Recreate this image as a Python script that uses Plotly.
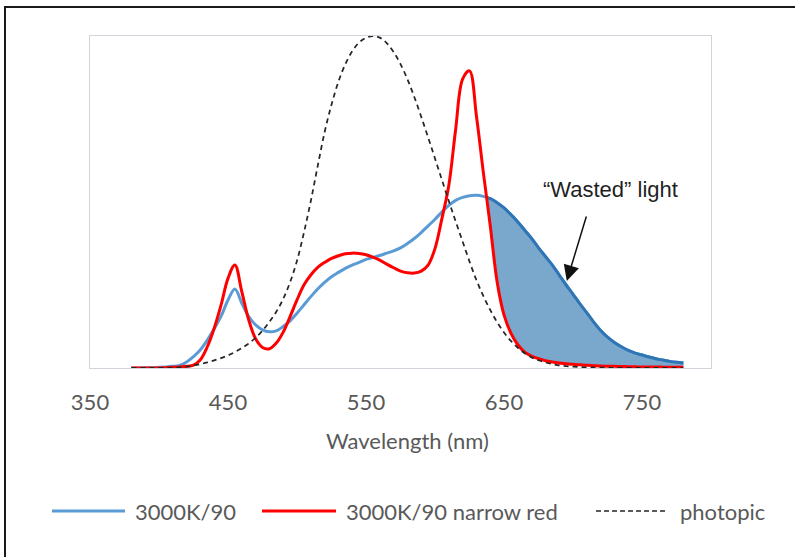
import plotly.graph_objects as go

# ---------------- data ----------------
wavelength = list(range(380, 781, 5))

photopic = [0.000039, 0.000064, 0.00012, 0.000217, 0.000396, 0.00064, 0.00121, 0.00218,
            0.004, 0.0073, 0.0116, 0.01684, 0.023, 0.0298, 0.038, 0.048, 0.06, 0.0739,
            0.09098, 0.1126, 0.13902, 0.1693, 0.20802, 0.2586, 0.323, 0.4073, 0.503,
            0.6082, 0.71, 0.7932, 0.862, 0.9149, 0.954, 0.9803, 0.99495, 1.0, 0.995,
            0.9786, 0.952, 0.9154, 0.87, 0.8163, 0.757, 0.6949, 0.631, 0.5668, 0.503,
            0.4412, 0.381, 0.321, 0.265, 0.217, 0.175, 0.1382, 0.107, 0.0816, 0.061,
            0.04458, 0.032, 0.0232, 0.017, 0.01192, 0.00821, 0.005723, 0.004102, 0.002929,
            0.002091, 0.001484, 0.001047, 0.00074, 0.00052, 0.000361, 0.000249, 0.000172,
            0.00012, 0.000085, 0.00006, 0.000042, 0.00003, 0.000021, 0.000015]

spd_3000k_90 = [0.0, 0.0, 0.0005, 0.001, 0.002, 0.003, 0.005, 0.008, 0.018, 0.034, 0.055,
                0.084, 0.118, 0.156, 0.205, 0.238, 0.195, 0.155, 0.13, 0.115, 0.109, 0.112,
                0.125, 0.142, 0.165, 0.19, 0.215, 0.238, 0.258, 0.275, 0.288, 0.3, 0.31,
                0.318, 0.327, 0.333, 0.339, 0.346, 0.353, 0.362, 0.375, 0.39, 0.408, 0.428,
                0.448, 0.47, 0.49, 0.505, 0.514, 0.519, 0.52, 0.517, 0.51, 0.498, 0.482,
                0.462, 0.44, 0.415, 0.39, 0.362, 0.336, 0.31, 0.28, 0.25, 0.222, 0.193,
                0.166, 0.138, 0.113, 0.093, 0.077, 0.064, 0.053, 0.045, 0.039, 0.033, 0.028,
                0.024, 0.02, 0.017, 0.015]

spd_narrow_red = [0.0, 0.0, 0.0, 0.0, 0.0, 0.001, 0.002, 0.003, 0.005, 0.009, 0.025, 0.064,
                  0.12, 0.19, 0.27, 0.31, 0.23, 0.145, 0.088, 0.062, 0.058, 0.075, 0.108,
                  0.155, 0.205, 0.25, 0.28, 0.303, 0.318, 0.33, 0.338, 0.344, 0.346, 0.345,
                  0.341, 0.334, 0.325, 0.313, 0.302, 0.292, 0.287, 0.286, 0.292, 0.31, 0.36,
                  0.45, 0.55, 0.72, 0.87, 0.895, 0.76, 0.59, 0.43, 0.26, 0.16, 0.105, 0.07,
                  0.048, 0.036, 0.028, 0.022, 0.018, 0.015, 0.013, 0.011, 0.0095, 0.008,
                  0.007, 0.006, 0.0055, 0.005, 0.0045, 0.004, 0.0035, 0.003, 0.003, 0.003,
                  0.0025, 0.002, 0.002, 0.002]

x_ticks = [350, 450, 550, 650, 750]
series_names = ["3000K/90", "3000K/90 narrow red", "photopic"]

# ---------------- styling ----------------
BLUE = "#5B9BD5"
BLUE_DARK = "#2E75B6"
FILL = "#7AA7CC"
RED = "#FF0000"
GRAY_TXT = "#595959"
FONT = "Lato"

W, H = 795, 557
L, R, T, B = 90, 84, 36, 189
PW, PH = W - L - R, H - T - B


def px2paper(px, py):
    return (px - L) / PW, (H - B - py) / PH


# crossing of the two spectra after the red peak -> start of "wasted" region
peak_idx = spd_narrow_red.index(max(spd_narrow_red))
xc, yc = None, None
cross_idx = None
for i in range(peak_idx, len(wavelength) - 1):
    d0 = spd_narrow_red[i] - spd_3000k_90[i]
    d1 = spd_narrow_red[i + 1] - spd_3000k_90[i + 1]
    if d0 >= 0 > d1:
        t = d0 / (d0 - d1)
        xc = wavelength[i] + t * (wavelength[i + 1] - wavelength[i])
        yc = spd_3000k_90[i] + t * (spd_3000k_90[i + 1] - spd_3000k_90[i])
        cross_idx = i + 1
        break

seg_x = [xc] + wavelength[cross_idx:]
seg_blue = [yc] + spd_3000k_90[cross_idx:]
seg_red = [yc] + spd_narrow_red[cross_idx:]

fig = go.Figure()

# blue line
fig.add_trace(go.Scatter(x=wavelength, y=spd_3000k_90, mode="lines", name=series_names[0],
                         line=dict(color=BLUE, width=3, shape="spline"), showlegend=False))
# wasted-light fill
fig.add_trace(go.Scatter(x=seg_x + seg_x[::-1], y=seg_blue + seg_red[::-1], mode="lines",
                         fill="toself", fillcolor=FILL, line=dict(width=0),
                         showlegend=False, hoverinfo="skip"))
fig.add_trace(go.Scatter(x=seg_x, y=seg_blue, mode="lines",
                         line=dict(color=BLUE_DARK, width=3, shape="spline"),
                         showlegend=False, hoverinfo="skip"))
# red line
fig.add_trace(go.Scatter(x=wavelength, y=spd_narrow_red, mode="lines", name=series_names[1],
                         line=dict(color=RED, width=3, shape="spline"), showlegend=False))
# photopic
fig.add_trace(go.Scatter(x=wavelength, y=photopic, mode="lines", name=series_names[2],
                         line=dict(color="#262626", width=1.75, dash="5px,4px", shape="spline"),
                         showlegend=False))

shapes = []
annotations = []

# outer chart border
bx0, by0 = px2paper(5, 565)
bx1, by1 = px2paper(805, 7)
shapes.append(dict(type="rect", xref="paper", yref="paper", x0=bx0, y0=by0, x1=bx1, y1=by1,
                   line=dict(color="#1a1a1a", width=2), layer="below"))

# manual legend
legend_items = [
    (series_names[0], BLUE, "solid", 3, 52, 125, 133),
    (series_names[1], RED, "solid", 3, 262, 336, 344),
    (series_names[2], "#262626", "5px,3px", 1.5, 596, 665, 678),
]
for name, col, dash, lw, sx0, sx1, tx in legend_items:
    x0, yy = px2paper(sx0, 511)
    x1, _ = px2paper(sx1, 511)
    shapes.append(dict(type="line", xref="paper", yref="paper", x0=x0, x1=x1, y0=yy, y1=yy,
                       line=dict(color=col, width=lw, dash=dash)))
    tx_p, _ = px2paper(tx, 511)
    annotations.append(dict(xref="paper", yref="paper", x=tx_p, y=yy, text=name,
                            showarrow=False, xanchor="left", yanchor="middle",
                            font=dict(family=FONT, size=22, color=GRAY_TXT)))

# axis title
atx, aty = px2paper(407.5, 440)
annotations.append(dict(xref="paper", yref="paper", x=atx, y=aty, text="Wavelength (nm)",
                        showarrow=False, xanchor="center", yanchor="middle",
                        font=dict(family=FONT, size=22, color=GRAY_TXT)))

# "Wasted" light label and arrow
annotations.append(dict(x=727, y=0.539, xref="x", yref="y", text="\u201cWasted\u201d light",
                        showarrow=False, xanchor="center", yanchor="middle",
                        font=dict(family="Liberation Sans, Arial", size=22, color="#1f1f1f")))
annotations.append(dict(x=695.5, y=0.262, xref="x", yref="y", text="",
                        showarrow=True, ax=20, ay=-66, axref="pixel", ayref="pixel",
                        arrowhead=2, arrowsize=2.1, arrowwidth=1.5, arrowcolor="#111111",
                        standoff=0))

fig.update_layout(
    width=W, height=H,
    margin=dict(l=L, r=R, t=T, b=B, pad=0),
    paper_bgcolor="white", plot_bgcolor="white",
    shapes=shapes, annotations=annotations,
    showlegend=False,
    xaxis=dict(range=[350, 800], tickvals=x_ticks, ticktext=[str(v) for v in x_ticks],
               showgrid=False, zeroline=False, showline=True, mirror=True,
               linecolor="#D3D3DC", linewidth=1, ticks="", ticklabelstandoff=15,
               tickfont=dict(family=FONT, size=22, color=GRAY_TXT)),
    yaxis=dict(range=[0, 1.0], showgrid=False, zeroline=False, showline=True, mirror=True,
               linecolor="#D3D3DC", linewidth=1, showticklabels=False, ticks=""),
)

fig.write_html("out.html")
